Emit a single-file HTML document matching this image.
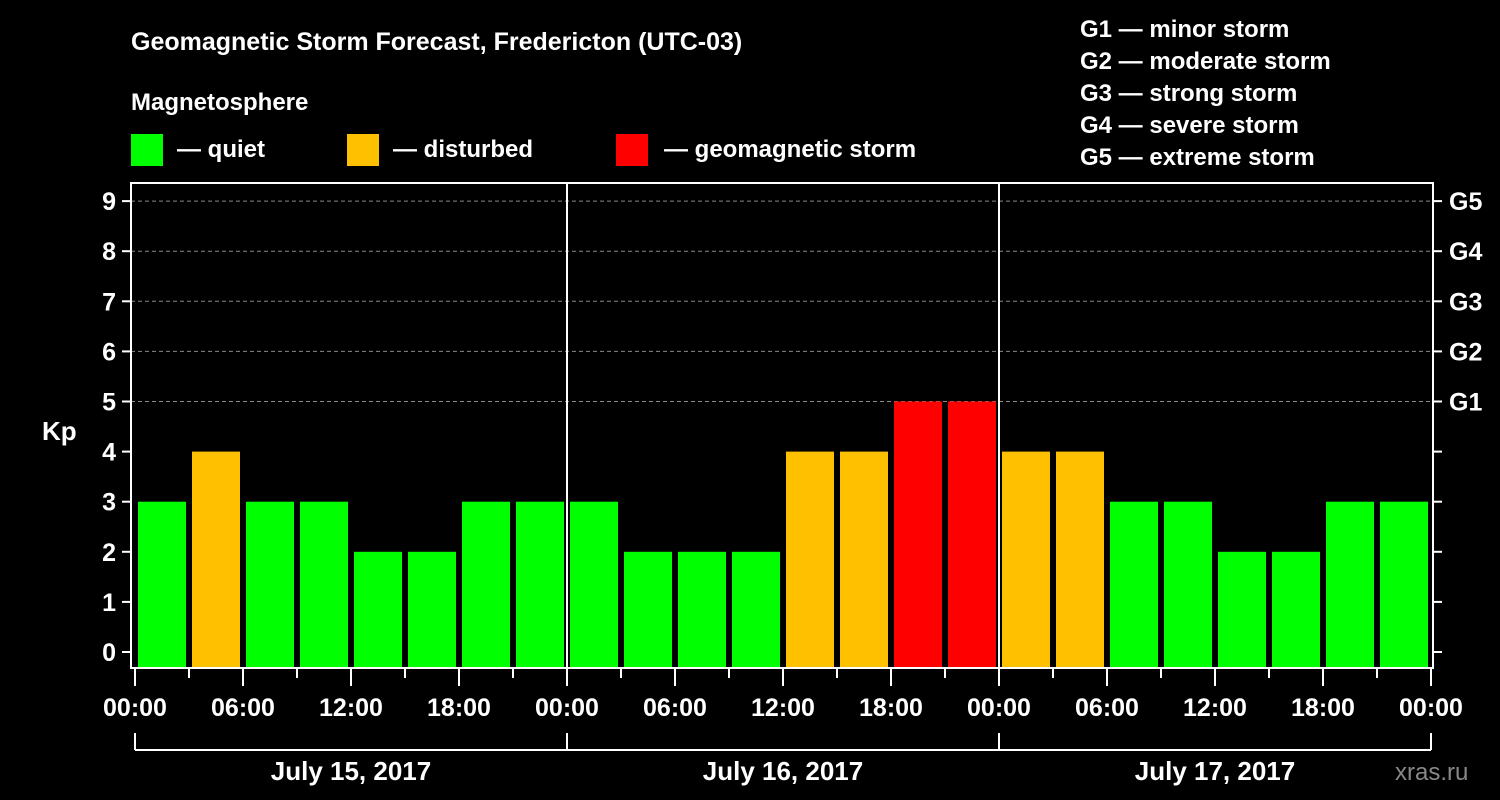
<!DOCTYPE html>
<html><head><meta charset="utf-8"><style>
body{margin:0;background:#000;}
svg{display:block;font-family:"Liberation Sans",sans-serif;font-weight:bold;}
</style></head><body>
<svg id="chart" width="1500" height="800" viewBox="0 0 1500 800">
<rect width="1500" height="800" fill="#000"/>
<text x="131" y="50" fill="#fff" font-size="25">Geomagnetic Storm Forecast, Fredericton (UTC-03)</text>
<text x="131" y="110" fill="#fff" font-size="24">Magnetosphere</text>
<g><rect x="131" y="134" width="32" height="32" fill="#00ff00"/><text x="177" y="157" fill="#fff" font-size="24">— quiet</text></g>
<g><rect x="347" y="134" width="32" height="32" fill="#ffc000"/><text x="393" y="157" fill="#fff" font-size="24">— disturbed</text></g>
<g><rect x="616" y="134" width="32" height="32" fill="#ff0000"/><text x="664" y="157" fill="#fff" font-size="24">— geomagnetic storm</text></g>
<g font-size="24" fill="#fff">
<text x="1080" y="37">G1 — minor storm</text>
<text x="1080" y="69">G2 — moderate storm</text>
<text x="1080" y="101">G3 — strong storm</text>
<text x="1080" y="133">G4 — severe storm</text>
<text x="1080" y="165">G5 — extreme storm</text>
</g>
<text x="42" y="440" fill="#fff" font-size="26">Kp</text>
<text x="1395" y="780" fill="#888" font-size="24" font-weight="normal">xras.ru</text>
<g id="plot"></g>
</svg>
<script>
const kpValues=[3,4,3,3,2,2,3,3, 3,2,2,2,4,4,5,5, 4,4,3,3,2,2,3,3];
const dayLabels=["July 15, 2017","July 16, 2017","July 17, 2017"];
const hourLabels=["00:00","06:00","12:00","18:00"];
const gLabels=["G1","G2","G3","G4","G5"];
const NS="http://www.w3.org/2000/svg";
const g=document.getElementById('plot');
const X0=135,PXH=18,BOT=668,TOP=183,L=131,R=1433;
const xs=h=>X0+h*PXH;
const ys=v=>652-v*50.1;
function mk(t,a){const e=document.createElementNS(NS,t);for(const k in a)e.setAttribute(k,a[k]);g.appendChild(e);return e;}
// gridlines
for(let v=5;v<=9;v++){const e=mk('line',{x1:L,x2:R,y1:ys(v),y2:ys(v),stroke:'#888','stroke-dasharray':'4,3','stroke-width':1});

}
// bars
kpValues.forEach((v,i)=>{const c=v>=5?'#ff0000':v>=4?'#ffc000':'#00ff00';
const r=mk('rect',{x:xs(i*3)+3,width:3*PXH-6,y:ys(v),height:BOT-ys(v),fill:c});

});
// frame
const f=mk('rect',{x:L,y:TOP,width:R-L,height:BOT-TOP,fill:'none',stroke:'#fff','stroke-width':2});


for(let d=1;d<3;d++){const e=mk('line',{x1:xs(d*24),x2:xs(d*24),y1:TOP,y2:BOT,stroke:'#fff','stroke-width':2});

}
// y ticks
for(let v=0;v<=9;v++){mk('line',{x1:122,x2:L,y1:ys(v),y2:ys(v),stroke:'#fff','stroke-width':2});
mk('line',{x1:R,x2:1442,y1:ys(v),y2:ys(v),stroke:'#fff','stroke-width':2});
const t=mk('text',{x:116,y:ys(v)+9,fill:'#fff','font-size':25,'text-anchor':'end'});t.textContent=v;

}
gLabels.forEach((s,i)=>{const t=mk('text',{x:1449,y:ys(5+i)+9,fill:'#fff','font-size':25});t.textContent=s;

});
// x ticks
for(let h=0;h<=72;h+=3){const major=h%6===0;mk('line',{x1:xs(h),x2:xs(h),y1:BOT,y2:major?686:678,stroke:'#fff','stroke-width':2});
if(major&&h%24!==18&&(h%6===0)){}}
for(let h=0;h<=72;h+=6){const lbl=hourLabels[(h%24)/6];const t=mk('text',{x:xs(h),y:716,fill:'#fff','font-size':25,'text-anchor':'middle'});t.textContent=lbl;

}
// day brackets
mk('line',{x1:xs(0),x2:xs(72),y1:750,y2:750,stroke:'#fff','stroke-width':2});
for(let d=0;d<=3;d++)mk('line',{x1:xs(d*24),x2:xs(d*24),y1:733,y2:750,stroke:'#fff','stroke-width':2});
dayLabels.forEach((s,i)=>{const t=mk('text',{x:xs(i*24+12),y:780,fill:'#fff','font-size':26,'text-anchor':'middle'});t.textContent=s;

});
</script>
</body></html>
